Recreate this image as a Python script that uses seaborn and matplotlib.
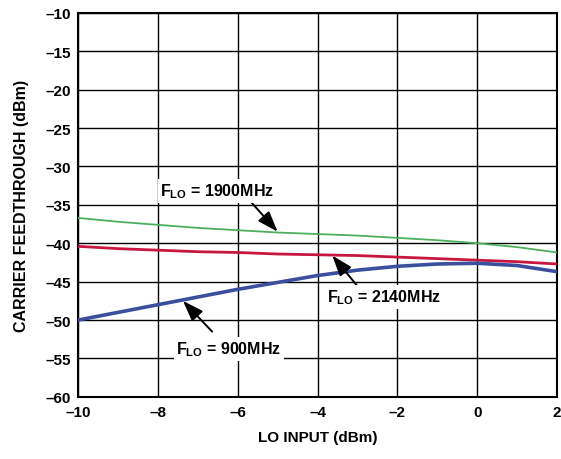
import numpy as np
import pandas as pd
import matplotlib
matplotlib.use('Agg')
import matplotlib.pyplot as plt
import seaborn as sns

# LO input power (dBm) and carrier feedthrough (dBm)
lo_input = [-10, -9, -8, -7, -6, -5, -4, -3, -2, -1, 0, 1, 2]
ft_1900 = [-36.7, -37.2, -37.6, -38.0, -38.3, -38.6, -38.8, -39.0, -39.3, -39.6, -40.0, -40.5, -41.2]
ft_2140 = [-40.4, -40.7, -40.9, -41.1, -41.2, -41.4, -41.5, -41.6, -41.8, -42.0, -42.2, -42.4, -42.7]
ft_900 = [-50.0, -49.0, -48.0, -47.0, -46.0, -45.1, -44.2, -43.5, -43.0, -42.7, -42.6, -42.9, -43.7]
series = ['1900MHz', '2140MHz', '900MHz']
x_ticks = [-10, -8, -6, -4, -2, 0, 2]
y_ticks = [-60, -55, -50, -45, -40, -35, -30, -25, -20, -15, -10]

sns.set_theme(style='white')
plt.rcParams['font.family'] = ['Liberation Sans', 'DejaVu Sans']
plt.rcParams.update({'mathtext.fontset': 'custom',
                     'mathtext.bf': 'Liberation Sans:bold',
                     'mathtext.rm': 'Liberation Sans:bold',
                     'text.color': 'black', 'axes.labelcolor': 'black',
                     'xtick.color': 'black', 'ytick.color': 'black'})

df = pd.DataFrame({
    'lo': lo_input * 3,
    'ft': ft_1900 + ft_2140 + ft_900,
    'freq': [s for s in series for _ in lo_input],
})

colors = {'1900MHz': '#4caf5e', '2140MHz': '#c8173f', '900MHz': '#3b4f9e'}
widths = {'1900MHz': 1.3, '2140MHz': 2.0, '900MHz': 2.6}

fig = plt.figure(figsize=(5.61, 4.6), dpi=100)
ax = fig.add_axes([0.139, 0.135, 0.854, 0.835])

for s in series:
    sns.lineplot(data=df[df.freq == s], x='lo', y='ft', color=colors[s],
                 linewidth=widths[s], ax=ax, legend=False, zorder=3)

ax.set_xlim(-10, 2); ax.set_ylim(-60, -10)
ax.set_xticks(x_ticks); ax.set_yticks(y_ticks)
fmt = lambda v: f'{v:d}'.replace('-', '\u2013')
ax.set_xticklabels([fmt(v) for v in x_ticks], fontsize=11, fontweight='bold')
ax.set_yticklabels([fmt(v) for v in y_ticks], fontsize=11, fontweight='bold')
ax.tick_params(axis='x', length=0, pad=6)
ax.tick_params(axis='y', length=0, pad=5)
ax.grid(True, color='black', linewidth=1.0)
for sp in ax.spines.values():
    sp.set_color('black'); sp.set_linewidth(1.5)
ax.set_xlabel('LO INPUT (dBm)', fontsize=11, fontweight='bold', labelpad=8)
ax.set_ylabel('CARRIER FEEDTHROUGH (dBm)', fontsize=11.5, fontweight='bold', labelpad=12)

arrow = dict(arrowstyle='-|>,head_length=0.9,head_width=0.32', color='black', lw=1.4,
             mutation_scale=14, shrinkA=0, shrinkB=0)
box = dict(boxstyle='square,pad=0.15', fc='white', ec='none')
lab = lambda f: r'$\mathbf{F_{LO}}$ = ' + f
ax.annotate('', xy=(-5.0, -38.5), xytext=(-5.74, -34.2), arrowprops=arrow)
ax.text(-7.94, -33.2, lab('1900MHz'), fontsize=11.5, fontweight='bold',
        ha='left', va='center', bbox=box)
ax.annotate('', xy=(-3.63, -41.6), xytext=(-2.98, -45.7), arrowprops=arrow)
ax.text(-3.76, -47.0, lab('2140MHz'), fontsize=11.5, fontweight='bold',
        ha='left', va='center', bbox=box, zorder=4)
ax.annotate('', xy=(-7.37, -47.5), xytext=(-6.64, -51.5), arrowprops=arrow)
ax.text(-7.54, -53.75, lab('900MHz'), fontsize=11.5, fontweight='bold',
        ha='left', va='center', bbox=box, zorder=4)

fig.savefig('out.png', dpi=100)
